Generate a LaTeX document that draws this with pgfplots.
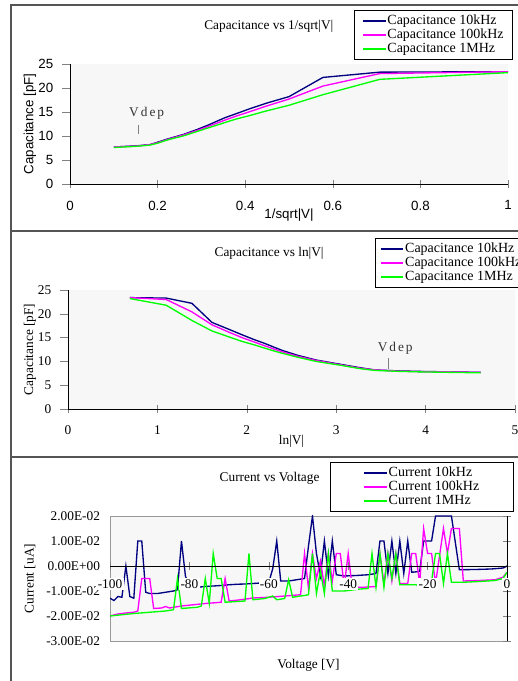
\documentclass[border=0pt]{standalone}
\usepackage{fontspec}
\setmainfont{Liberation Serif}
\newfontfamily\arial{Liberation Sans}
\usepackage{pgfplots}
\pgfplotsset{compat=1.18}
\usepackage{pgfplotstable}

\definecolor{c10k}{RGB}{0,0,128}
\definecolor{c100k}{RGB}{255,0,255}
\definecolor{c1M}{RGB}{0,255,0}
\definecolor{plotbg}{RGB}{247,247,247}
\definecolor{framec}{RGB}{85,85,85}

% capacitance: V, 1/sqrt(V), ln(V+1), C at 10kHz, 100kHz, 1MHz [pF]
\pgfplotstableread{
V   isq    lnv    c10  c100  c1M
1   1.0000 0.6931 23.4 23.4  23.2
2   0.7071 1.0986 23.3 23.0  21.8
3   0.5774 1.3863 22.2 20.4  18.6
4   0.5000 1.6094 18.2 17.7  16.4
5   0.4472 1.7918 16.8 16.2  15.2
6   0.4082 1.9459 15.6 15.0  14.2
7   0.3780 2.0794 14.6 14.1  13.5
8   0.3536 2.1972 13.8 13.3  12.8
9   0.3333 2.3026 13.0 12.6  12.2
10  0.3162 2.3979 12.3 12.0  11.7
12  0.2887 2.5649 11.3 11.1  10.9
15  0.2582 2.7726 10.3 10.2  10.0
20  0.2236 3.0445 9.4  9.3   9.2
25  0.2000 3.2581 8.7  8.6   8.5
30  0.1826 3.4340 8.2  8.2   8.1
40  0.1581 3.7136 8.0  7.95  7.9
50  0.1414 3.9318 7.9  7.85  7.8
70  0.1195 4.2627 7.8  7.8   7.7
100 0.1000 4.6151 7.7  7.7   7.6
}\capdata

% current, 10 kHz
\pgfplotstableread{
V I
-100 -0.0129
-99 -0.0138
-98 -0.0122
-97 -0.0125
-96 0.0
-95 -0.0122
-94 -0.0129
-93 0.010
-92 0.010
-91 -0.0105
-90 -0.0110
-88 -0.0110
-86 -0.0105
-84 -0.0100
-83 -0.0095
-82 0.010
-81 -0.004
-80 -0.0085
-78 -0.0085
-76 -0.0082
-74 -0.0080
-72 -0.0078
-70 -0.0075
-68 -0.0073
-66 -0.0072
-64 -0.0070
-62 -0.0068
-60 -0.0066
-59 -0.001
-58 0.010
-57 -0.0060
-55 -0.0060
-53 -0.0055
-51 -0.0050
-50 0.008
-49 0.020
-48 0.005
-47 -0.004
-46 0.010
-45 -0.004
-44 0.010
-43 -0.0035
-41 -0.0040
-38 -0.0038
-35 -0.0035
-33 -0.0030
-32 0.010
-31 0.010
-30 -0.0030
-29 0.010
-28 -0.0030
-27 0.010
-26 -0.0030
-25 0.010
-24 -0.0025
-22 -0.0022
-21 0.010
-19 0.010
-18 0.020
-14 0.020
-12 -0.0015
-8 -0.0014
-4 -0.0012
-1 -0.0008
0 0.0
}\curA

% current, 100 kHz
\pgfplotstableread{
V I
-100 -0.020
-98 -0.0192
-96 -0.0188
-94 -0.0185
-93 -0.0180
-92 -0.005
-90 -0.005
-89 -0.0170
-87 -0.0168
-86 -0.0162
-85 -0.0168
-82 -0.0160
-79 -0.0155
-76 -0.0150
-72 -0.0145
-71 -0.005
-70 -0.0140
-67 -0.0135
-64 -0.0128
-60 -0.0125
-56 -0.0120
-52 -0.0115
-51 0.005
-50 -0.009
-49 0.005
-48 -0.005
-47 0.002
-46 -0.008
-45 0.005
-44 -0.006
-43 0.005
-42 0.005
-41 -0.008
-40 0.005
-39 -0.0085
-36 -0.0085
-33 -0.0082
-32 0.005
-31 -0.007
-30 0.005
-29 -0.006
-28 0.005
-27 -0.007
-25 -0.007
-24 0.005
-23 0.005
-22 -0.007
-21 0.015
-20 0.005
-19 0.005
-18 -0.007
-16 0.015
-15 0.005
-14 0.015
-12 0.015
-11 -0.006
-7 -0.0058
-3 -0.0055
-1 -0.0045
0 -0.0025
}\curB

% current, 1 MHz
\pgfplotstableread{
V I
-100 -0.020
-97 -0.0195
-94 -0.019
-90 -0.0185
-86 -0.018
-84 -0.0175
-83 -0.005
-82 -0.017
-78 -0.0165
-77 -0.016
-76 -0.005
-75 -0.015
-74 0.005
-73 -0.005
-72 -0.005
-71 -0.0145
-66 -0.014
-65 0.005
-64 -0.0135
-61 -0.013
-60 -0.0125
-59 -0.012
-58 -0.0135
-56 -0.013
-55 -0.0055
-54 -0.0125
-52 -0.012
-51 -0.0118
-50 -0.0115
-49 0.005
-48 -0.011
-47 -0.002
-46 -0.011
-45 0.005
-44 -0.010
-43 -0.010
-41 -0.010
-37 -0.0092
-35 -0.009
-34 0.005
-33 -0.0085
-32 0.005
-31 -0.0085
-30 0.005
-29 -0.005
-28 0.005
-27 -0.0075
-23 -0.0075
-22 -0.008
-20 -0.008
-19 -0.006
-18 0.005
-17 0.005
-16 -0.007
-15 0.005
-14 -0.0065
-11 -0.0065
-7 -0.0062
-3 -0.0058
-1 -0.005
0 -0.0025
}\curC

\pgfplotsset{
  panel/.style={
    scale only axis,
    anchor=south west,
    axis background/.style={fill=plotbg},
    /pgf/number format/assume math mode=true,
    every axis plot/.append style={line width=1pt},
    every axis title shift=0pt,
    legend cell align=left,
    major tick length=6pt,
  },
  capaxis/.style={
    axis x line*=bottom, axis y line*=left,
    xtick pos=bottom, ytick pos=left,
    axis line style={-, black},
    xtick align=center, ytick align=outside,
    ymin=0, ymax=25, ytick={0,5,10,15,20,25},
    xticklabel style={yshift=-6pt},
    yticklabel style={xshift=-3pt},
  },
  lgd/.style={draw=black, font=\fontsize{10.5}{10.5}\selectfont,
    inner ysep=3pt,
    nodes={inner ysep=0pt, inner xsep=0.8pt, text height=7.6pt, text depth=2.4pt},
    row sep=0.5pt},
}

\begin{document}
\begin{tikzpicture}
\path[use as bounding box] (0,0) rectangle (387.75pt,510.75pt);
\fill[white] (0,0) rectangle (387.75pt,510.75pt);
\draw[framec, line width=1.1pt] (8.25pt,0) -- (8.25pt,507pt) -- (392pt,507pt);
\draw[framec, line width=1.1pt] (8.25pt,337.5pt) -- (392pt,337.5pt);
\draw[framec, line width=1.1pt] (8.25pt,168pt) -- (392pt,168pt);

% panel 1
\begin{axis}[panel, capaxis,
  at={(52.5pt,372.75pt)}, width=328.5pt, height=90pt,
  xmin=0, xmax=1, xtick={0,0.2,0.4,0.6,0.8,1},
  tick label style={font=\arial\fontsize{10}{12}\selectfont},
  title={Capacitance vs 1/sqrt|V|},
  title style={at={(axis description cs:0.454,1.317)}, anchor=center, font=\fontsize{10}{12}\selectfont},
  xlabel={1/sqrt|V|}, ylabel={Capacitance [pF]},
  label style={font=\arial\fontsize{10}{12}\selectfont},
  xlabel style={at={(axis description cs:0.5,-0.258)}, anchor=center},
  ylabel style={at={(axis description cs:-0.0913,0.5)}, anchor=center},
  legend style={lgd, at={(1.0114,1.45)}, anchor=north east, inner xsep=6pt},
]
\addplot[c10k] table[x=isq, y=c10] {\capdata};
\addplot[c100k] table[x=isq, y=c100] {\capdata};
\addplot[c1M] table[x=isq, y=c1M] {\capdata};
\legend{Capacitance 10kHz, Capacitance 100kHz, Capacitance 1MHz}
\draw[gray, line width=0.7pt] (axis cs:0.157,10.5) -- (axis cs:0.157,12.3);
\node[font=\fontsize{10}{10}\selectfont, text=black!80] at (axis cs:0.175,14.7) {\addfontfeature{LetterSpace=15}Vdep};
\end{axis}

% panel 2
\begin{axis}[panel, capaxis,
  at={(51pt,204pt)}, width=335.25pt, height=89.25pt,
  xmin=0, xmax=5, xtick={0,1,2,3,4,5},
  tick label style={font=\fontsize{10}{12}\selectfont},
  title={Capacitance vs ln|V|},
  title style={at={(axis description cs:0.45,1.311)}, anchor=center, font=\fontsize{10}{12}\selectfont},
  xlabel={ln|V|}, ylabel={Capacitance [pF]},
  label style={font=\fontsize{10}{12}\selectfont},
  xlabel style={at={(axis description cs:0.5,-0.269)}, anchor=center},
  ylabel style={at={(axis description cs:-0.085,0.5)}, anchor=center},
  legend style={lgd, at={(0.687,1.437)}, anchor=north west, inner xsep=3.5pt},
]
\addplot[c10k] table[x=lnv, y=c10] {\capdata};
\addplot[c100k] table[x=lnv, y=c100] {\capdata};
\addplot[c1M] table[x=lnv, y=c1M] {\capdata};
\legend{Capacitance 10kHz, Capacitance 100kHz, Capacitance 1MHz}
\draw[gray, line width=0.7pt] (axis cs:3.58,8.5) -- (axis cs:3.58,10.7);
\node[font=\fontsize{10}{10}\selectfont, text=black!80] at (axis cs:3.66,12.8) {\addfontfeature{LetterSpace=15}Vdep};
\end{axis}

% panel 3: frame, left labels, data
\begin{axis}[panel,
  at={(82.5pt,30pt)}, width=297.75pt, height=93.75pt,
  xmin=-100, xmax=0, ymin=-0.03, ymax=0.02,
  scaled y ticks=false, scaled x ticks=false,
  axis line style={draw=gray!80},
  xtick=\empty,
  ytick={-0.03,-0.02,-0.01,0,0.01,0.02},
  yticklabels={-3.00E-02,-2.00E-02,-1.00E-02,0.00E+00,1.00E-02,2.00E-02},
  ytick style={draw=none},
  yticklabel style={font=\fontsize{10}{12}\selectfont, xshift=-4pt},
  title={Current vs Voltage},
  title style={at={(axis description cs:0.402,1.304)}, anchor=center, font=\fontsize{10}{12}\selectfont},
  xlabel={Voltage [V]}, ylabel={Current [uA]},
  label style={font=\fontsize{10}{12}\selectfont},
  xlabel style={at={(axis description cs:0.5,-0.192)}, anchor=center},
  ylabel style={at={(axis description cs:-0.2015,0.5)}, anchor=center},
  legend style={lgd, at={(0.554,1.432)}, anchor=north west, inner xsep=25pt},
]
\addplot[c10k] table[x=V, y=I] {\curA};
\addplot[c100k] table[x=V, y=I] {\curB};
\addplot[c1M] table[x=V, y=I] {\curC};
\legend{Current 10kHz, Current 100kHz, Current 1MHz}
\end{axis}

% panel 3: axis lines crossing at zero
\begin{axis}[scale only axis, anchor=south west,
  at={(82.5pt,30pt)}, width=297.75pt, height=93.75pt,
  xmin=-100, xmax=0, ymin=-0.03, ymax=0.02,
  scaled y ticks=false, scaled x ticks=false,
  axis x line=middle, axis y line=right,
  axis line style={-, black},
  hide obscured x ticks=false, hide obscured y ticks=false,
  tick align=center, major tick length=6pt,
  xtick={-100,-80,-60,-40,-20,0},
  ytick={-0.03,-0.02,-0.01,0,0.01,0.02},
  yticklabels={},
  /pgf/number format/assume math mode=true,
  xticklabel style={font=\fontsize{10}{12}\selectfont, fill=white, inner sep=1pt, yshift=-6pt},
]
\end{axis}
\end{tikzpicture}
\end{document}
